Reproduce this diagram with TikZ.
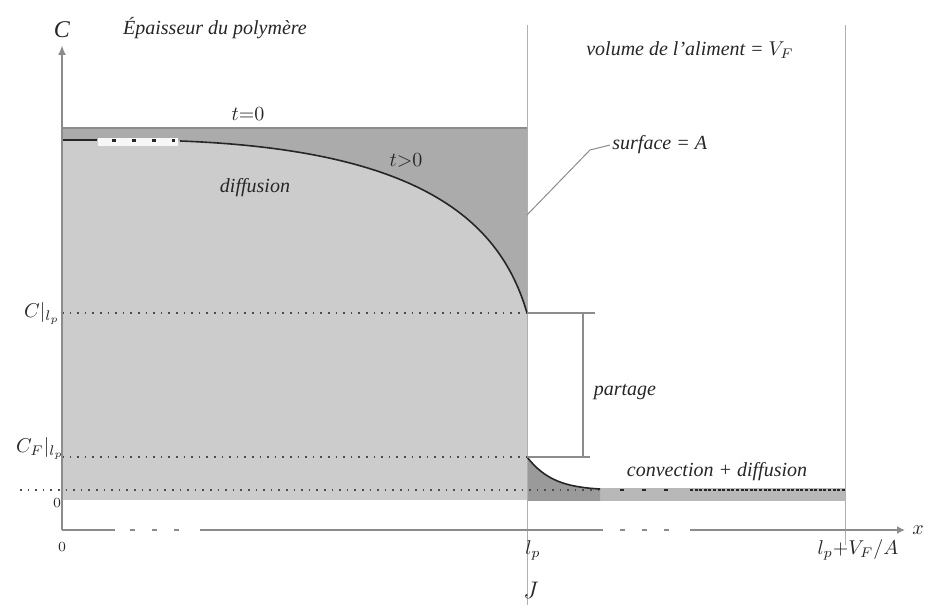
\documentclass[tikz,border=0pt]{standalone}
\usepackage{fontspec}
\setmainfont{Liberation Serif}
\usetikzlibrary{arrows.meta}
\definecolor{lightfill}{gray}{0.80}
\definecolor{darkfill}{gray}{0.67}
\definecolor{stripfill}{gray}{0.72}
\definecolor{linegray}{gray}{0.55}
\tikzset{
  lbl/.style={font=\itshape\normalsize, text=black!85, inner sep=1pt},
  thinv/.style={draw=linegray!70, line width=0.5pt},
  axisline/.style={draw=linegray, line width=1.2pt},
  dotline/.style={draw=black!70, line width=0.8pt, dash pattern=on 0.8pt off 3pt},
  curveline/.style={draw=black!85, line width=0.8pt},
  bracketline/.style={draw=linegray, line width=0.6pt}
}
\begin{document}
\begin{tikzpicture}[x=0.5pt,y=-0.5pt]
\useasboundingbox (0,0) rectangle (942,608);
% polymer regions
\fill[darkfill] (62,128) -- (527,128) -- (527,313) .. controls (500,220) and (420,150) .. (180,141) -- (62,140) -- cycle;
\fill[lightfill] (62,140) -- (180,141) .. controls (420,150) and (500,220) .. (527,313) -- (527,500) -- (62,500) -- cycle;
\fill[white!85!lightfill] (98,138) rectangle (178,146);
% t=0 line
\draw[draw=linegray, line width=0.8pt] (62,128) -- (527,128);
% food side
\fill[stripfill] (527,488) rectangle (845,501);
\fill[darkfill!90!black] (527,457) .. controls (545,480) and (565,487) .. (600,489) -- (600,501) -- (527,501) -- cycle;
% vertical lines
\coordinate (itop) at (527,25);
\coordinate (ibot) at (527,605);
\draw[thinv] (itop) -- (ibot);
\coordinate (rtop) at (845,25);
\coordinate (rbot) at (845,545);
\draw[thinv] (rtop) -- (rbot);
% dotted lines
\coordinate (d1a) at (62,313); \coordinate (d1b) at (527,313);
\coordinate (d2a) at (62,457); \coordinate (d2b) at (527,457);
\coordinate (d3a) at (20,490); \coordinate (d3b) at (600,490);
\draw[dotline] (d1a) -- (d1b);
\draw[dotline] (d2a) -- (d2b);
\draw[dotline] (d3a) -- (d3b);
% polymer curve
\draw[curveline] (62,140) -- (97,140);
\draw[curveline, line width=1.2pt, dash pattern=on 2pt off 8pt] (112,140.5) -- (175,140.5);
\draw[curveline] (180,141) .. controls (420,150) and (500,220) .. (527,313);
% food curve
\draw[curveline] (527,457) .. controls (545,480) and (565,487) .. (600,489);
\draw[curveline, line width=1.2pt, dash pattern=on 2pt off 9pt] (620,490) -- (685,490);
\draw[curveline, line width=1.2pt, dash pattern=on 1.5pt off 0.8pt] (690,490) -- (845,490);
% axes
\coordinate (o) at (62,530);
\coordinate (ytop) at (62,45);
\coordinate (xend) at (905,530);
\draw[axisline, -{Latex[length=5pt,width=4pt]}] (o) -- (ytop);
\draw[axisline] (o) -- (115,530);
\draw[axisline, dash pattern=on 2.5pt off 8.5pt] (130,530) -- (190,530);
\draw[axisline] (200,530) -- (603,530);
\draw[axisline, dash pattern=on 2.5pt off 8.5pt] (620,530) -- (680,530);
\draw[axisline, -{Latex[length=4pt,width=4pt]}] (690,530) -- (xend);
% bracket partage
\coordinate (bt1) at (527,313); \coordinate (bt2) at (595,313);
\coordinate (bb1) at (527,457); \coordinate (bb2) at (590,457);
\coordinate (bv1) at (583,313); \coordinate (bv2) at (583,457);
\draw[bracketline] (bt1) -- (bt2);
\draw[bracketline] (bb1) -- (bb2);
\draw[bracketline] (bv1) -- (bv2);
% surface leader
\node[lbl, anchor=west] (surf) at (610,145) {surface = A};
\coordinate (sp) at (527,215);
\coordinate (sk) at (590,150);
\draw[draw=linegray, line width=0.5pt] (sp) -- (sk) -- (surf.west);
% labels
\node[lbl] (Clab) at (62,30) {\large C};
\node[lbl] (ep) at (215,28) {Épaisseur du polymère};
\node[lbl] (vol) at (690,50) {volume de l'aliment = $V_F$};
\node[lbl] (t0) at (248,114) {$t{=}0$};
\node[lbl] (tg) at (406,160) {$t{>}0$};
\node[lbl] (diff) at (255,188) {diffusion};
\node[lbl] (part) at (625,392) {partage};
\node[lbl] (conv) at (717,472) {convection + diffusion};
\node[lbl] (cl) at (42,313) {$C|_{l_p}$};
\node[lbl] (cf) at (40,448) {$C_F|_{l_p}$};
\node[lbl, font=\itshape\scriptsize] (z1) at (57,503) {$0$};
\node[lbl, font=\itshape\scriptsize] (z2) at (62,547) {$0$};
\node[lbl] (lp) at (533,550) {$l_p$};
\node[lbl] (lpv) at (858,550) {$l_p{+}V_F/A$};
\node[lbl] (xl) at (918,530) {$x$};
\node[lbl] (J) at (531,590) {\large$J$};
\end{tikzpicture}
\end{document}
